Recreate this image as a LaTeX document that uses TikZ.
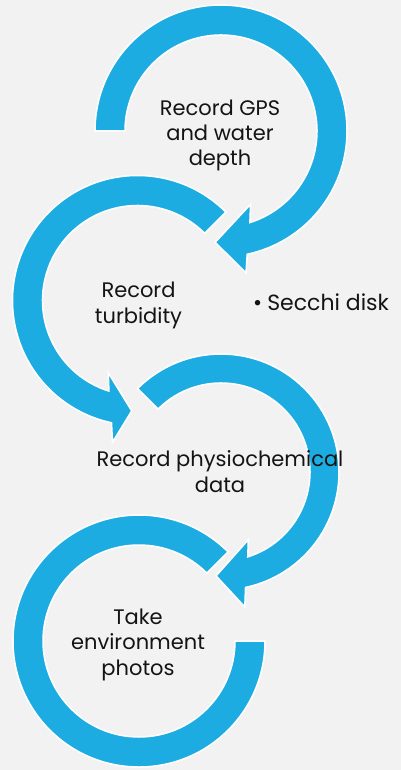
\documentclass[tikz,border=0pt]{standalone}
\usepackage{fontspec}
\setmainfont{Poppins}
\definecolor{arrowblue}{RGB}{29,172,226}
\definecolor{bgcol}{RGB}{242,242,242}
\definecolor{txtcol}{RGB}{20,20,20}
\begin{document}
\begin{tikzpicture}[x=1pt,y=1pt,
  arrowshape/.style={fill=arrowblue, draw=white, line width=1.5pt, line join=miter},
  txtlabel/.style={font=\fontsize{21}{25.3}\selectfont, text=txtcol, align=center, inner sep=0pt, anchor=base}]
\fill[bgcol] (0,0) rectangle (401,-770);
\useasboundingbox (0,0) rectangle (401,-770);
% arrow 1
\draw[arrowshape, shift={(221,-131)}] (180:126pt) arc[start angle=180, end angle=-78, radius=126pt]
  -- (-80:144pt) -- (-93:111.5pt) -- (-68:79pt) -- (-72.5:96pt)
  arc[start angle=-72.5, end angle=180, radius=96pt] -- cycle;
% arrow 2
\draw[arrowshape, shift={(137.5,-300.5)}] (45:125pt) arc[start angle=45, end angle=258, radius=125pt]
  -- (260:144pt) -- (267:110.5pt) -- (248:78pt) -- (252.5:95pt)
  arc[start angle=252.5, end angle=45, radius=95pt] -- cycle;
% arrow 3
\draw[arrowshape, shift={(221,-472)}] (135:118pt) arc[start angle=135, end angle=-78, radius=118pt]
  -- (-80:137pt) -- (-92.7:104pt) -- (-68:73pt) -- (-72.5:89pt)
  arc[start angle=-72.5, end angle=135, radius=89pt] -- cycle;
% arrow 4
\draw[arrowshape, shift={(139,-641)}] (45:126pt) arc[start angle=45, end angle=360, radius=126pt]
  -- (0:96pt) arc[start angle=360, end angle=45, radius=96pt] -- cycle;
% texts (base anchor = baseline of last line)
\node[txtlabel] (t1) at (220,-166) {Record GPS\\and water\\depth};
\node[txtlabel] (t2) at (138.5,-323) {Record\\turbidity};
\node[txtlabel] (t3) at (220,-492) {Record physiochemical\\data};
\node[txtlabel] (t4) at (138,-675) {Take\\environment\\photos};
\node[txtlabel, font=\fontsize{22}{26}\selectfont, anchor=base west] (s) at (253,-310) {•\hspace{5pt}Secchi disk};
\end{tikzpicture}
\end{document}
